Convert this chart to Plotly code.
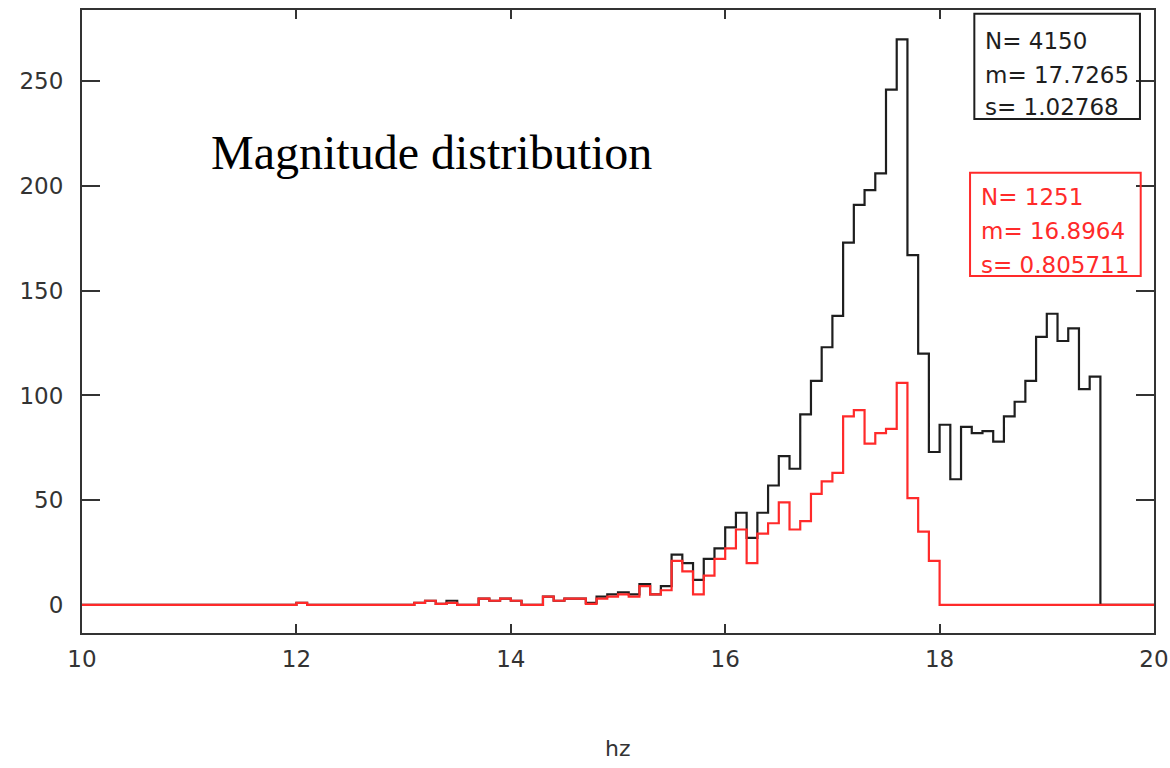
import numpy as np
import plotly.graph_objects as go

# Histogram binning: 100 bins of width 0.1 covering 10..20
bin_lo, bin_hi, bin_w = 10.0, 20.0, 0.1
bin_edges = np.round(np.arange(bin_lo, bin_hi + bin_w / 2, bin_w), 2)

# Counts per bin, full sample (black)
counts_all = [
    0, 0, 0, 0, 0, 0, 0, 0, 0, 0,          # 10.0 - 10.9
    0, 0, 0, 0, 0, 0, 0, 0, 0, 0,          # 11.0 - 11.9
    1, 0, 0, 0, 0, 0, 0, 0, 0, 0,          # 12.0 - 12.9
    0, 1, 2, 0.5, 2, 0, 0, 3, 2, 3,        # 13.0 - 13.9
    2, 0, 0, 4, 2, 3, 3, 1, 4, 5,          # 14.0 - 14.9
    6, 5, 10, 5, 9, 24, 20, 12, 22, 27,    # 15.0 - 15.9
    37, 44, 32, 44, 57, 71, 65, 91, 107, 123,       # 16.0 - 16.9
    138, 173, 191, 198, 206, 246, 270, 167, 120, 73,  # 17.0 - 17.9
    86, 60, 85, 82, 83, 78, 90, 97, 107, 128,       # 18.0 - 18.9
    139, 126, 132, 103, 109, 0, 0, 0, 0, 0,         # 19.0 - 19.9
]

# Counts per bin, subsample (red)
counts_sub = [
    0, 0, 0, 0, 0, 0, 0, 0, 0, 0,          # 10.0 - 10.9
    0, 0, 0, 0, 0, 0, 0, 0, 0, 0,          # 11.0 - 11.9
    1, 0, 0, 0, 0, 0, 0, 0, 0, 0,          # 12.0 - 12.9
    0, 1, 2, 0.5, 1, 0, 0, 3, 2, 3,        # 13.0 - 13.9
    2, 0, 0, 4, 2, 3, 3, 0.5, 3, 4,        # 14.0 - 14.9
    5, 4, 9, 5, 7, 21, 16, 5, 14, 22,      # 15.0 - 15.9
    27, 36, 20, 34, 39, 49, 36, 40, 53, 59,  # 16.0 - 16.9
    63, 90, 93, 77, 82, 84, 106, 51, 35, 21,  # 17.0 - 17.9
    0, 0, 0, 0, 0, 0, 0, 0, 0, 0,          # 18.0 - 18.9
    0, 0, 0, 0, 0, 0, 0, 0, 0, 0,          # 19.0 - 19.9
]

stats_all = ["N= 4150", "m= 17.7265", "s= 1.02768"]
stats_sub = ["N= 1251", "m= 16.8964", "s= 0.805711"]

x_ticks = [10, 12, 14, 16, 18, 20]
y_ticks = [0, 50, 100, 150, 200, 250]

BLACK = "#1e1e1e"
RED = "#ff2a2a"
AXIS = "#333333"
TICK_FONT = dict(family="DejaVu Sans", size=23, color="#333333")

fig = go.Figure()


def step_trace(counts, color):
    # Edge-aligned step outline: repeat the final count so the last bin closes at 20
    y = list(counts) + [counts[-1]]
    return go.Scatter(
        x=bin_edges, y=y, mode="lines",
        line=dict(color=color, width=2.2, shape="hv"),
        hoverinfo="skip", showlegend=False, cliponaxis=True,
    )


fig.add_trace(step_trace(counts_all, BLACK))
fig.add_trace(step_trace(counts_sub, RED))

# Statistics boxes (paper coordinates)
fig.add_shape(type="rect", xref="paper", yref="paper",
              x0=0.8324, x1=0.9869, y0=0.825, y1=0.994,
              line=dict(color=BLACK, width=2))
fig.add_shape(type="rect", xref="paper", yref="paper",
              x0=0.8284, x1=0.9876, y0=0.573, y1=0.7388,
              line=dict(color=RED, width=2))

for txt, yy in zip(stats_all, [0.9507, 0.8957, 0.8443]):
    fig.add_annotation(text=txt, xref="paper", yref="paper", x=0.8405, y=yy,
                       xanchor="left", yanchor="middle", showarrow=False,
                       font=dict(family="DejaVu Sans", size=23, color=BLACK))
for txt, yy in zip(stats_sub, [0.7003, 0.6457, 0.5907]):
    fig.add_annotation(text=txt, xref="paper", yref="paper", x=0.8368, y=yy,
                       xanchor="left", yanchor="middle", showarrow=False,
                       font=dict(family="DejaVu Sans", size=23, color=RED))

# Title text inside the plot
fig.add_annotation(text="Magnitude distribution", xref="paper", yref="paper",
                   x=0.3256, y=0.772, xanchor="center", yanchor="middle",
                   showarrow=False,
                   font=dict(family="Liberation Serif", size=48, color="#000000"))

# x-axis title
fig.add_annotation(text="hz", xref="paper", yref="paper", x=0.5, y=-0.1846,
                   xanchor="center", yanchor="middle", showarrow=False,
                   font=dict(family="DejaVu Sans", size=22, color="#333333"))

fig.update_layout(
    width=1170, height=768,
    margin=dict(l=82, r=16, t=10, b=135),
    plot_bgcolor="white", paper_bgcolor="white",
    showlegend=False,
)
fig.update_xaxes(
    range=[bin_lo, bin_hi], tickvals=x_ticks, ticktext=[str(v) for v in x_ticks],
    showgrid=False, zeroline=False, automargin=False, layer="below traces",
    showline=True, linecolor=AXIS, linewidth=2, mirror="ticks",
    ticks="inside", ticklen=9, tickwidth=2, tickcolor=AXIS,
    tickfont=TICK_FONT, ticklabelstandoff=4,
)
fig.update_yaxes(
    range=[-13.4, 284], tickvals=y_ticks, ticktext=[str(v) for v in y_ticks],
    showgrid=False, zeroline=False, automargin=False, layer="below traces",
    showline=True, linecolor=AXIS, linewidth=2, mirror="ticks",
    ticks="inside", ticklen=18, tickwidth=2, tickcolor=AXIS,
    tickfont=TICK_FONT, ticklabelstandoff=12,
)

fig.write_html("out.html")
